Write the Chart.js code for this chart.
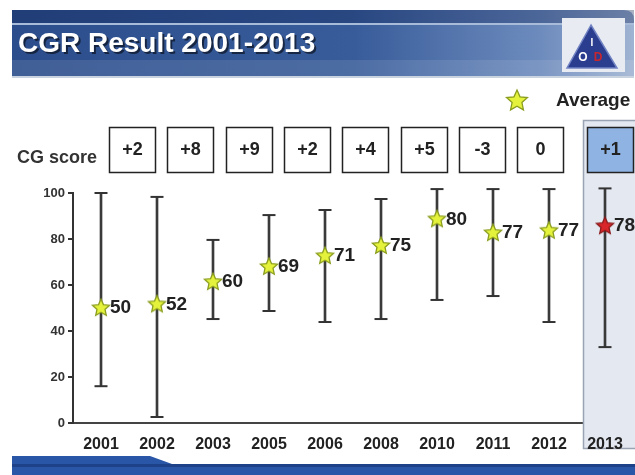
<!DOCTYPE html>
<html><head><meta charset="utf-8">
<script src="https://cdn.jsdelivr.net/npm/chart.js@4.4.0/dist/chart.umd.min.js"></script>
<style>html,body{margin:0;padding:0;background:#fff;overflow:hidden;}canvas{display:block;}</style>
</head><body>
<canvas id="c" width="635" height="475"></canvas>
<script>
// ---- data ----
const years = ['2001','2002','2003','2005','2006','2008','2010','2011','2012','2013'];
const maxScores = [100, 98.3, 79.6, 90.4, 92.6, 97.4, 101.7, 101.7, 101.7, 102];
const minScores = [16, 2.6, 45.2, 48.7, 43.9, 45.2, 53.5, 55.2, 43.9, 33];
const avgPosition = [50.4, 52, 61.7, 68.3, 73, 77.4, 89, 83, 84, 86];
const avgLabels = ['50','52','60','69','71','75','80','77','77','78'];
const cgScores = ['+2','+8','+9','+2','+4','+5','-3','0','+1'];
const yTicks = [0, 20, 40, 60, 80, 100];

const FONT = '"Liberation Sans", Arial, sans-serif';

function makeStar(r, fill, stroke){
  const s = Math.ceil(r*2 + 4);
  const c = document.createElement('canvas'); c.width = s; c.height = s;
  const g = c.getContext('2d');
  g.translate(s/2, s/2 + 1);
  g.beginPath();
  for (let i = 0; i < 10; i++) {
    const rad = i % 2 ? r*0.47 : r;
    const a = -Math.PI/2 + i*Math.PI/5;
    g.lineTo(rad*Math.cos(a), rad*Math.sin(a));
  }
  g.closePath();
  g.fillStyle = fill; g.fill();
  g.lineWidth = 1.3; g.strokeStyle = stroke; g.stroke();
  return c;
}
const yStar = makeStar(9, '#e4f23c', '#8a9d1e');
const rStar = makeStar(9, '#d8262b', '#8a1a1a');
const legendStar = makeStar(11, '#e4f23c', '#8a9d1e');

const slidePlugin = {
  id: 'slide',
  beforeDraw(chart){
    const ctx = chart.ctx;
    ctx.save();
    ctx.fillStyle = '#ffffff'; ctx.fillRect(0,0,635,475);
    // title bar
    const grd = ctx.createLinearGradient(12,0,634,0);
    grd.addColorStop(0,'#2c4d8c'); grd.addColorStop(0.55,'#385c9a'); grd.addColorStop(0.85,'#6d8bbd'); grd.addColorStop(1,'#9fb3d2');
    ctx.beginPath();
    ctx.moveTo(12,10); ctx.lineTo(624,10); ctx.quadraticCurveTo(634,10,634,20);
    ctx.lineTo(634,77); ctx.lineTo(12,77); ctx.closePath();
    ctx.fillStyle = grd; ctx.fill();
    ctx.fillStyle = 'rgba(15,35,85,0.35)'; ctx.fillRect(12,10,622,13);
    ctx.fillStyle = '#a8bcda'; ctx.fillRect(12,23,622,2);
    ctx.fillStyle = 'rgba(255,255,255,0.10)'; ctx.fillRect(12,60,622,17);
    ctx.fillStyle = '#c9d2df'; ctx.fillRect(12,76,622,2);
    // title
    ctx.font = 'bold 28px ' + FONT;
    ctx.textBaseline = 'middle'; ctx.textAlign = 'left';
    ctx.fillStyle = 'rgba(0,0,0,0.55)'; ctx.fillText('CGR Result 2001-2013', 20, 46);
    ctx.fillStyle = '#ffffff'; ctx.fillText('CGR Result 2001-2013', 18, 44);
    // logo
    ctx.fillStyle = '#e8ecf2'; ctx.fillRect(562,18,63,54);
    ctx.beginPath(); ctx.moveTo(591,25); ctx.lineTo(567,68); ctx.lineTo(617,68); ctx.closePath();
    ctx.fillStyle = '#2b3d8e'; ctx.fill(); ctx.strokeStyle = '#7283c4'; ctx.lineWidth = 1.5; ctx.stroke();
    ctx.textAlign = 'center';
    ctx.font = 'bold 10px ' + FONT; ctx.fillStyle = '#ffffff'; ctx.fillText('I', 592, 43);
    ctx.font = 'bold 12px ' + FONT; ctx.fillText('O', 583, 58);
    ctx.fillStyle = '#c8262e'; ctx.fillText('D', 598, 58);
    // bottom bar
    ctx.fillStyle = '#2a56a8';
    ctx.beginPath(); ctx.moveTo(12,456); ctx.lineTo(150,456); ctx.lineTo(172,464); ctx.lineTo(635,464); ctx.lineTo(635,475); ctx.lineTo(12,475); ctx.closePath(); ctx.fill();
    ctx.fillStyle = 'rgba(10,30,80,0.35)'; ctx.fillRect(12,464,623,3);
    // CG score label
    ctx.textAlign = 'left';
    ctx.font = 'bold 18px ' + FONT; ctx.fillStyle = '#333333';
    ctx.fillText('CG score', 17, 158);
    // legend
    ctx.drawImage(legendStar, 517 - legendStar.width/2, 100 - legendStar.height/2);
    ctx.font = 'bold 19px ' + FONT; ctx.fillStyle = '#222222';
    ctx.fillText('Average', 556, 101);
    ctx.restore();
  },
  beforeDatasetsDraw(chart){
    const ctx = chart.ctx;
    ctx.save();
    // 2013 highlight panel
    ctx.fillStyle = '#e3e8f1'; ctx.fillRect(583,120,60,329);
    ctx.strokeStyle = '#9aa3b3'; ctx.lineWidth = 1.5; ctx.strokeRect(583.5,120.5,60,328);
    // CG score boxes
    ctx.font = 'bold 18px ' + FONT; ctx.textAlign = 'center'; ctx.textBaseline = 'middle';
    cgScores.forEach((s, i) => {
      const last = i === cgScores.length - 1;
      const cx = last ? 609.5 : 132 + i*58.3;
      const x = Math.round(cx - 23) + 0.5;
      ctx.fillStyle = last ? '#8fb4e3' : '#ffffff';
      ctx.fillRect(x, 127.5, 46, 45);
      ctx.strokeStyle = '#222222'; ctx.lineWidth = 1.5; ctx.strokeRect(x, 127.5, 46, 45);
      ctx.fillStyle = '#222222'; ctx.fillText(s, x + 23, 150);
    });
    ctx.restore();
  },
  afterDatasetsDraw(chart){
    const ctx = chart.ctx;
    const meta = chart.getDatasetMeta(0);
    ctx.save();
    ctx.font = 'bold 19px ' + FONT; ctx.fillStyle = '#222222';
    ctx.textAlign = 'left'; ctx.textBaseline = 'middle';
    meta.data.forEach((pt, i) => { ctx.fillText(avgLabels[i], pt.x + 9, pt.y + 1); });
    ctx.restore();
  }
};

new Chart(document.getElementById('c'), {
  type: 'bar',
  data: {
    labels: years,
    datasets: [
      { type: 'line', label: 'Average', data: avgPosition, showLine: false, clip: false,
        pointStyle: years.map((y, i) => i === years.length - 1 ? rStar : yStar),
        pointRadius: 9, pointHoverRadius: 9 },
      { type: 'line', label: 'max', data: maxScores, showLine: false, clip: false,
        pointStyle: 'line', pointRadius: 6.5, pointHoverRadius: 6.5, borderColor: '#333333', pointBorderWidth: 2, borderWidth: 2 },
      { type: 'line', label: 'min', data: minScores, showLine: false, clip: false,
        pointStyle: 'line', pointRadius: 6.5, pointHoverRadius: 6.5, borderColor: '#333333', pointBorderWidth: 2, borderWidth: 2 },
      { type: 'bar', label: 'range', data: years.map((y, i) => [minScores[i], maxScores[i]]), clip: false,
        backgroundColor: '#3a3a3a', barThickness: 2, borderWidth: 0 }
    ]
  },
  options: {
    responsive: false,
    animation: false,
    events: [],
    layout: { autoPadding: false, padding: { top: 193, left: 0, right: 2, bottom: 0 } },
    plugins: { legend: { display: false }, title: { display: false }, tooltip: { enabled: false } },
    scales: {
      x: {
        offset: true,
        grid: { display: false, drawTicks: false },
        border: { display: true, color: '#444444', width: 2, z: 0 },
        ticks: { z: 1, padding: 12, color: '#222222', font: { family: FONT, size: 16, weight: 'bold' }, maxRotation: 0, autoSkip: false },
        afterFit(s){ s.height = 52; s.paddingLeft = 0; s.paddingRight = 0; }
      },
      y: {
        min: 0, max: 100,
        afterBuildTicks(s){ s.ticks = yTicks.map(v => ({ value: v })); },
        grid: { display: true, drawOnChartArea: false, drawTicks: true, tickLength: 5, color: '#333333', lineWidth: 2 },
        border: { display: true, color: '#333333', width: 2 },
        ticks: { padding: 3, color: '#333333', font: { family: FONT, size: 13, weight: 'bold' } },
        afterFit(s){ s.width = 73; s.paddingTop = 0; s.paddingBottom = 0; }
      }
    }
  },
  plugins: [slidePlugin]
});
</script>
</body></html>
